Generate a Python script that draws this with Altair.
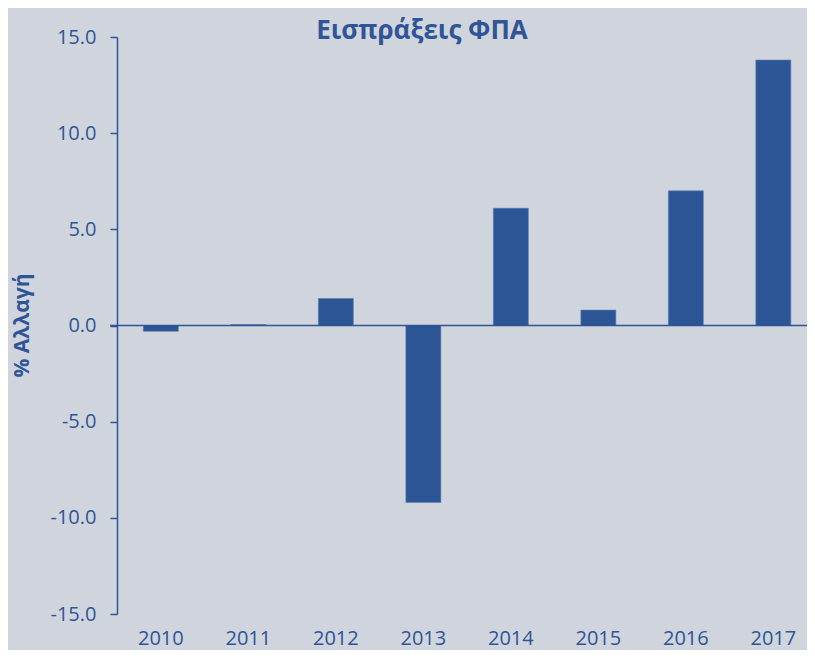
import altair as alt
import pandas as pd

years = ["2010", "2011", "2012", "2013", "2014", "2015", "2016", "2017"]
values = [-0.3, 0.05, 1.4, -9.2, 6.1, 0.8, 7.0, 13.8]

df = pd.DataFrame({"year": years, "value": values})

BLUE = "#2B5594"
TEXT = "#2F5597"
BG = "#CFD4DD"
FONT = "Open Sans"

bars = alt.Chart(df).mark_bar(color=BLUE, stroke="#5A7DB5", strokeWidth=0.6).encode(
    x=alt.X("year:N", sort=years, title=None,
            scale=alt.Scale(paddingInner=0.6, paddingOuter=0.243, align=0.62),
            axis=alt.Axis(orient="bottom", domain=False, ticks=False, labelAngle=0,
                          labelPadding=14, labelFont=FONT, labelFontSize=20,
                          labelColor=TEXT)),
    y=alt.Y("value:Q", title="% Αλλαγή",
            scale=alt.Scale(domain=[-15, 15], nice=False),
            axis=alt.Axis(values=[-15, -10, -5, 0, 5, 10, 15],
                          labelExpr="datum.value < 0 ? '-' + format(-datum.value, '.1f') : format(datum.value, '.1f')",
                          grid=False, domainColor=TEXT, domainWidth=1.5,
                          tickColor=TEXT, tickWidth=1.5, tickSize=7,
                          labelPadding=14, labelFont=FONT, labelFontSize=20,
                          labelColor=TEXT, titleFont=FONT, titleFontSize=21,
                          titleFontWeight="bold", titleColor=TEXT,
                          titleAngle=270, titleX=-95, titleY=288,
                          titleAlign="center", titleBaseline="middle")),
)

zero = alt.Chart(pd.DataFrame({"z": [0]})).mark_rule(color=TEXT, strokeWidth=1.5).encode(
    y="z:Q", x=alt.value(-7), x2=alt.value(690)
)

chart = (bars + zero).properties(
    width=690,
    height=577,
    title=alt.TitleParams("Εισπράξεις ΦΠΑ", font=FONT, fontSize=26, fontWeight="bold",
                          color=TEXT, anchor="middle", dx=-40, dy=21, offset=4),
    background=BG,
    autosize=alt.AutoSizeParams(type="none"),
    padding={"left": 109, "top": 29, "right": 0, "bottom": 36},
).configure_view(stroke=None)

chart.save("out.html", embed_options={"renderer": "svg", "actions": False})
